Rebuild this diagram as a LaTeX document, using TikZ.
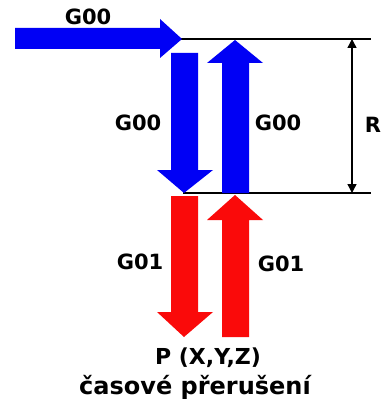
\documentclass[tikz,border=0pt]{standalone}
\usepackage{fontspec}
\setmainfont{DejaVu Sans}
\usetikzlibrary{arrows.meta}
\definecolor{gblue}{RGB}{0,0,245}
\definecolor{gred}{RGB}{250,10,10}
\tikzset{
  lbl/.style={font=\fontsize{21}{23}\selectfont\bfseries, inner sep=0pt, text=black},
  bigtxt/.style={font=\fontsize{22}{24}\selectfont\bfseries, inner sep=0pt, text=black},
  widetxt/.style={font=\fontsize{24}{26}\selectfont\bfseries, inner sep=0pt, text=black},
  refline/.style={draw=black, line width=1.6pt},
  dimline/.style={draw=black, line width=1.4pt, {Triangle[length=9pt,width=9pt]}-{Triangle[length=9pt,width=9pt]}},
  bluearr/.style={fill=gblue},
  redarr/.style={fill=gred}
}
\begin{document}
\begin{tikzpicture}[x=1pt,y=-1pt]
\useasboundingbox (0,0) rectangle (385,401);
% reference lines
\coordinate (t1) at (181,39);
\coordinate (t2) at (371,39);
\coordinate (b1) at (183,193);
\coordinate (b2) at (371,193);
\coordinate (d1) at (352,39);
\coordinate (d2) at (352,193);
\draw[refline] (t1) -- (t2);
\draw[refline] (b1) -- (b2);
\draw[dimline] (d1) -- (d2);
% top horizontal arrow
\fill[bluearr] (15,28) -- (160,28) -- (160,19) -- (182,39) -- (160,58) -- (160,49) -- (15,49) -- cycle;
% blue down
\fill[bluearr] (171,53) -- (198,53) -- (198,170) -- (213,170) -- (184,193) -- (157,170) -- (171,170) -- cycle;
% blue up
\fill[bluearr] (222,193) -- (249,193) -- (249,63) -- (263,63) -- (235,40) -- (207,63) -- (222,63) -- cycle;
% red down
\fill[redarr] (171,196) -- (198,196) -- (198,312) -- (213,312) -- (184,337) -- (157,312) -- (171,312) -- cycle;
% red up
\fill[redarr] (222,337) -- (249,337) -- (249,220) -- (263,220) -- (235,195) -- (207,220) -- (222,220) -- cycle;
% labels
\node[lbl] (g0) at (88,17) {G00};
\node[lbl] (g1) at (138,123) {G00};
\node[lbl] (g2) at (278,123) {G00};
\node[lbl] (g3) at (140,262) {G01};
\node[lbl] (g4) at (281,264) {G01};
\node[lbl] (r) at (373,125) {R};
\node[bigtxt] (p) at (208,358) {P (X,Y,Z)};
\node[widetxt] (c) at (195,387) {časové přerušení};
\end{tikzpicture}
\end{document}
